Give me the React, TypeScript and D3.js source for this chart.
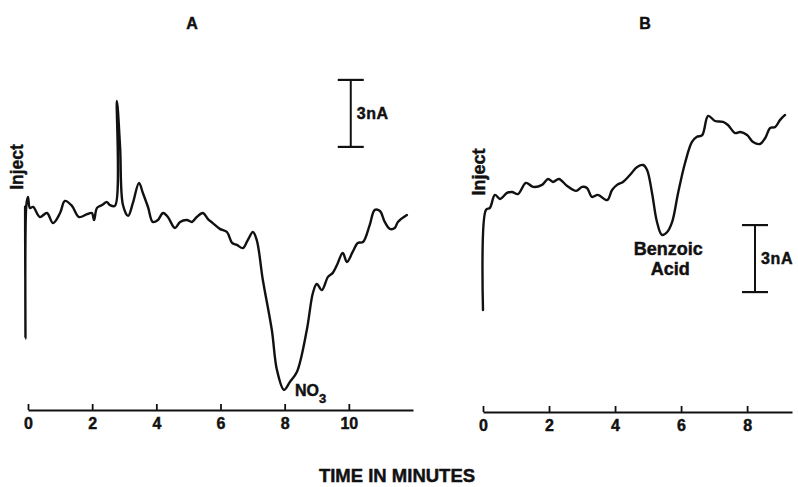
import React, { useRef, useEffect } from "react";
import * as d3 from "d3";

// Panel A trace: time (min), current (nA above axis)
const timeA = [
  -0.09, -0.08, -0.05, 0.0, 0.06, 0.16, 0.37, 0.59, 0.78, 1.0, 1.15, 1.37, 1.59, 1.84, 1.99, 2.06,
  2.15, 2.31, 2.46, 2.55, 2.71, 2.77, 2.87, 2.96, 3.12, 3.27, 3.46, 3.58, 3.74, 3.89, 4.05, 4.21,
  4.36, 4.58, 4.74, 4.95, 5.11, 5.26, 5.45, 5.61, 5.76, 5.98, 6.2, 6.36, 6.51, 6.7, 6.85, 7.01,
  7.13, 7.32, 7.6, 7.76, 7.98, 8.16, 8.38, 8.69, 8.88, 9.0, 9.16, 9.35, 9.5, 9.63, 9.81, 9.94,
  10.12, 10.28, 10.44, 10.65, 10.81, 10.97, 11.12, 11.28, 11.43, 11.53, 11.81,
];
const currentA = [
  9.1, 3.2, 9.2, 9.54, 9.05, 9.09, 8.64, 8.82, 8.37, 8.82, 9.36, 9.14, 8.64, 8.77, 8.82, 8.51,
  9.05, 9.18, 9.31, 9.18, 9.14, 13.84, 11.78, 9.18, 8.69, 9.27, 10.17, 9.72, 9.09, 8.42, 8.51, 8.82,
  8.64, 8.15, 8.42, 8.51, 8.42, 8.64, 8.82, 8.55, 8.37, 8.11, 7.97, 7.48, 7.39, 7.25, 7.61, 7.97,
  7.61, 5.82, 3.58, 1.79, 0.9, 1.25, 1.7, 3.58, 5.24, 5.64, 5.37, 5.96, 6.14, 6.49, 7.03, 6.63,
  7.08, 7.48, 7.52, 8.28, 8.96, 8.91, 8.42, 8.11, 8.15, 8.42, 8.73,
];

// Panel B trace
const timeB = [
  0.0, 0.09, 0.21, 0.36, 0.52, 0.73, 0.88, 1.06, 1.3, 1.52, 1.79, 1.97, 2.12, 2.3, 2.55, 2.82,
  3.0, 3.15, 3.3, 3.48, 3.76, 3.91, 4.06, 4.24, 4.45, 4.67, 4.85, 4.97, 5.12, 5.27, 5.42, 5.58,
  5.73, 5.91, 6.12, 6.33, 6.48, 6.64, 6.82, 7.03, 7.27, 7.42, 7.64, 7.79, 8.0, 8.18, 8.39, 8.55,
  8.7, 8.85, 9.0, 9.15,
];
const currentB = [
  4.57, 9.05, 9.14, 9.72, 9.54, 9.81, 9.85, 9.76, 10.26, 10.08, 10.17, 10.43, 10.3, 10.43, 10.12, 9.9,
  10.08, 10.03, 9.63, 9.72, 9.49, 9.94, 10.17, 10.3, 10.61, 10.97, 11.06, 10.84, 9.81, 8.51, 7.93, 8.06,
  8.51, 9.81, 11.15, 12.09, 12.32, 12.4, 13.26, 13.03, 12.99, 12.85, 12.49, 12.54, 12.4, 12.09, 12.0, 12.27,
  12.72, 12.76, 13.08, 13.3,
];

const ticksA = [0, 2, 4, 6, 8, 10];
const ticksB = [0, 2, 4, 6, 8];

// 3 nA scale bars: [time, low current, high current]
const barA = [10.06, 11.78, 14.78];
const barB = [8.24, 5.37, 8.37];

const FONT = "'Liberation Sans', Arial, Helvetica, sans-serif";
const INK = "#111";

// bold scanned-looking text
const ink = (sel: any, size: number) =>
  sel
    .attr("fill", INK)
    .attr("stroke", INK)
    .attr("stroke-width", 0.45)
    .style("font-family", FONT)
    .style("font-weight", "bold")
    .style("font-size", `${size}px`);

export default function App() {
  const svgRef = useRef<SVGSVGElement>(null);

  useEffect(() => {
    const svg = d3.select(svgRef.current);
    svg.selectAll("*").remove();

    const panels = [
      {
        title: "A",
        titleX: 192,
        time: timeA,
        current: currentA,
        ticks: ticksA,
        bar: barA,
        x: d3.scaleLinear().domain([0, 12]).range([28, 413]),
        y: d3.scaleLinear().domain([0, 15]).range([410, 75]),
        inject: [23, 167, 17.5],
      },
      {
        title: "B",
        titleX: 645,
        time: timeB,
        current: currentB,
        ticks: ticksB,
        bar: barB,
        x: d3.scaleLinear().domain([0, 9.36]).range([483, 792]),
        y: d3.scaleLinear().domain([0, 15]).range([412, 77]),
        inject: [485, 172, 18],
      },
    ];

    panels.forEach((p) => {
      const g = svg.append("g");
      const pts = p.time.map((t, i) => [t, p.current[i]] as [number, number]);

      // axis
      const axis = g
        .append("g")
        .attr("transform", `translate(0,${p.y(0)})`)
        .call(
          d3
            .axisBottom(p.x)
            .tickValues(p.ticks)
            .tickSizeInner(-6)
            .tickSizeOuter(0)
            .tickPadding(8)
            .tickFormat(d3.format("d"))
        );
      axis.select(".domain").attr("stroke", INK).attr("stroke-width", 2.2);
      axis.selectAll(".tick line").attr("stroke", INK).attr("stroke-width", 1.8);
      ink(axis.selectAll(".tick text"), 16);

      // trace
      const line = d3
        .line<[number, number]>()
        .x((d) => p.x(d[0]))
        .y((d) => p.y(d[1]))
        .curve(d3.curveCatmullRom.alpha(0.5));
      g.append("path")
        .attr("d", line(pts))
        .attr("fill", "none")
        .attr("stroke", INK)
        .attr("stroke-width", 2.4)
        .attr("stroke-linejoin", "round")
        .attr("stroke-linecap", "round");

      // scale bar
      const bx = p.x(p.bar[0]);
      const y1 = p.y(p.bar[1]);
      const y2 = p.y(p.bar[2]);
      g.append("line").attr("x1", bx).attr("x2", bx).attr("y1", y1).attr("y2", y2)
        .attr("stroke", INK).attr("stroke-width", 2);
      [y1, y2].forEach((yy) =>
        g.append("line").attr("x1", bx - 13).attr("x2", bx + 13).attr("y1", yy).attr("y2", yy)
          .attr("stroke", INK).attr("stroke-width", 2.2)
      );
      ink(
        g.append("text").attr("x", bx + 6).attr("y", (y1 + y2) / 2 + 5.5).style("letter-spacing", "0.6px"),
        16
      ).text("3nA");

      // title
      ink(g.append("text").attr("x", p.titleX).attr("y", 29).attr("text-anchor", "middle"), 16).text(p.title);

      // inject label
      ink(
        g
          .append("text")
          .attr("transform", `translate(${p.inject[0]},${p.inject[1]}) rotate(-90)`)
          .attr("text-anchor", "middle"),
        p.inject[2]
      ).text("Inject");
    });

    const [pa, pb] = panels;

    // NO3 label
    const no3 = ink(svg.append("text").attr("x", pa.x(8.32)).attr("y", pa.y(0.63)), 16);
    no3.append("tspan").text("NO");
    no3.append("tspan").attr("dy", 7).style("font-size", "13px").text("3");

    // Benzoic Acid label
    [["Benzoic", 5.61, 7.03], ["Acid", 5.67, 6.13]].forEach(([s, t, v]) =>
      ink(
        svg
          .append("text")
          .attr("x", pb.x(t as number))
          .attr("y", pb.y(v as number))
          .attr("text-anchor", "middle"),
        18
      ).text(s as string)
    );

    ink(svg.append("text").attr("x", 397).attr("y", 482).attr("text-anchor", "middle"), 18.5).text(
      "TIME IN MINUTES"
    );
  }, []);

  return (
    <svg
      ref={svgRef}
      width={798}
      height={487}
      style={{ position: "absolute", left: 0, top: 0, background: "#fff" }}
    />
  );
}
